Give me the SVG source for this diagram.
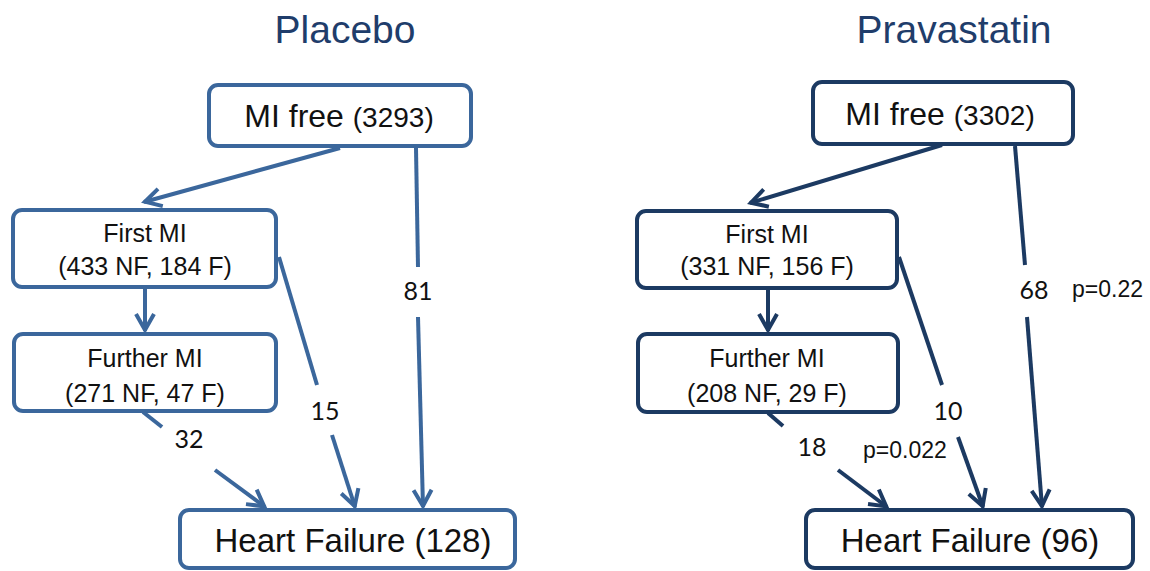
<svg xmlns="http://www.w3.org/2000/svg" width="1150" height="571" viewBox="0 0 1150 571">
<style>
.bg{fill:#ffffff}
.title{font-family:"Liberation Sans",Arial,sans-serif;font-size:39px;text-anchor:middle}
.t1{fill:#1f3d6b}
.boxL{fill:#ffffff;stroke:#3b679c;stroke-width:4}
.boxR{fill:#ffffff;stroke:#1c3a62;stroke-width:4}
.lbl{font-family:"Liberation Sans",Arial,sans-serif;fill:#111111;text-anchor:middle}
.big{font-size:32px}
.mid{font-size:25px}
.hf{font-size:33px}
.num{font-family:Lato,"Open Sans",sans-serif;font-size:25px;fill:#111111;text-anchor:middle}
.p{font-family:"Liberation Sans",Arial,sans-serif;font-size:23px;fill:#111111}
.cL{stroke:#3b679c;stroke-width:4;fill:none}
.cR{stroke:#1c3a62;stroke-width:4;fill:none}
.aL{marker-end:url(#arrL)}
.aR{marker-end:url(#arrR)}
</style>
<defs>
<marker id="arrL" markerUnits="userSpaceOnUse" viewBox="-22 -13 26 26" refX="0" refY="0" markerWidth="26" markerHeight="26" orient="auto">
<path d="M-17,-9 L-1,0 L-17,9" fill="none" stroke="#3b679c" stroke-width="4" stroke-linejoin="miter"/>
</marker>
<marker id="arrR" markerUnits="userSpaceOnUse" viewBox="-22 -13 26 26" refX="0" refY="0" markerWidth="26" markerHeight="26" orient="auto">
<path d="M-17,-9 L-1,0 L-17,9" fill="none" stroke="#1c3a62" stroke-width="4" stroke-linejoin="miter"/>
</marker>
</defs>
<rect class="bg" x="0" y="0" width="1150" height="571"/>

<text class="title t1" x="345" y="43">Placebo</text>
<text class="title t1" x="954" y="43">Pravastatin</text>

<g id="connectors">
<line class="cL aL" x1="340" y1="148" x2="144" y2="202"/>
<line class="cL aL" x1="145" y1="288" x2="145" y2="331"/>
<line class="cL" x1="416" y1="148" x2="418" y2="267"/>
<line class="cL aL" x1="418" y1="317" x2="423" y2="507"/>
<line class="cL" x1="279" y1="257" x2="317" y2="385"/>
<line class="cL aL" x1="332" y1="435" x2="355" y2="507"/>
<line class="cL" x1="143" y1="412" x2="162" y2="427"/>
<line class="cL aL" x1="215" y1="470" x2="265" y2="507"/>

<line class="cR aR" x1="942" y1="145" x2="750" y2="203"/>
<line class="cR aR" x1="768" y1="289" x2="768" y2="331"/>
<line class="cR" x1="1015" y1="146" x2="1025" y2="265"/>
<line class="cR aR" x1="1027" y1="317" x2="1042" y2="507"/>
<line class="cR" x1="899" y1="257" x2="942" y2="385"/>
<line class="cR aR" x1="958" y1="437" x2="983" y2="507"/>
<line class="cR" x1="768" y1="413" x2="783" y2="426"/>
<line class="cR aR" x1="838" y1="470" x2="887" y2="507"/>

<text class="num" x="418" y="300">81</text>
<text class="num" x="325" y="420">15</text>
<text class="num" x="189" y="448">32</text>
<text class="num" x="1034" y="299">68</text>
<text class="p" x="1072" y="297">p=0.22</text>
<text class="num" x="948" y="420">10</text>
<text class="num" x="812" y="456">18</text>
<text class="p" x="863" y="458">p=0.022</text>
</g>

<g id="placebo-mifree">
<rect class="boxL" x="209" y="85" width="262" height="61" rx="9"/>
<text class="lbl big" x="339" y="127">MI free <tspan font-size="28">(3293)</tspan></text>
</g>
<g id="placebo-firstmi">
<rect class="boxL" x="13" y="210" width="263" height="77" rx="9"/>
<text class="lbl mid" x="145" y="242">First MI</text>
<text class="lbl mid" x="145" y="275">(433 NF, 184 F)</text>
</g>
<g id="placebo-furthermi">
<rect class="boxL" x="14" y="334" width="262" height="77" rx="9"/>
<text class="lbl mid" x="145" y="367">Further MI</text>
<text class="lbl mid" x="145" y="402">(271 NF, 47 F)</text>
</g>
<g id="placebo-hf">
<rect class="boxL" x="180" y="510" width="335" height="58" rx="9"/>
<text class="lbl hf" x="353" y="552">Heart Failure (128)</text>
</g>

<g id="prava-mifree">
<rect class="boxR" x="813" y="82" width="260" height="62" rx="9"/>
<text class="lbl big" x="940" y="125">MI free <tspan font-size="28">(3302)</tspan></text>
</g>
<g id="prava-firstmi">
<rect class="boxR" x="637" y="211" width="260" height="77" rx="9"/>
<text class="lbl mid" x="767" y="243">First MI</text>
<text class="lbl mid" x="767" y="275">(331 NF, 156 F)</text>
</g>
<g id="prava-furthermi">
<rect class="boxR" x="638" y="334" width="260" height="78" rx="9"/>
<text class="lbl mid" x="767" y="367">Further MI</text>
<text class="lbl mid" x="767" y="402">(208 NF, 29 F)</text>
</g>
<g id="prava-hf">
<rect class="boxR" x="806" y="510" width="327" height="58" rx="9"/>
<text class="lbl hf" x="970" y="552">Heart Failure (96)</text>
</g>
</svg>
